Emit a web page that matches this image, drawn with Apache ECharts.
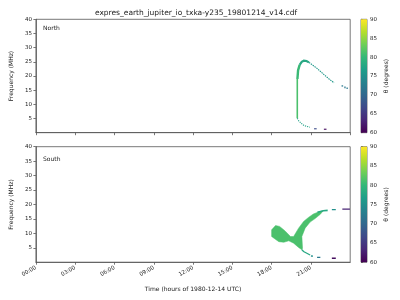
<!DOCTYPE html>
<html><head><meta charset="utf-8">
<script src="https://cdn.jsdelivr.net/npm/echarts@6/dist/echarts.min.js"></script>
<style>html,body{margin:0;padding:0;background:#fff}#c{width:400px;height:300px}</style>
</head><body><div id="c"></div>
<script>
// ---- data (time in hours of 1980-12-14 UTC, frequency in MHz, theta in degrees)
const xTickLabels = ['00:00','03:00','06:00','09:00','12:00','15:00','18:00','21:00'];
const viridis = ['#440154','#482878','#3e4989','#31688e','#26828e','#1f9e89','#35b779','#6ece58','#b5de2b','#fde725'];

// North panel strokes
const northVertical = [[19.96,5.1],[19.96,19.2]];
const northArcLow = [[19.97,19.0],[20.02,22.0],[20.14,23.9]];
const northArcTop = [[20.14,23.9],[20.30,25.0],[20.46,25.4],[20.66,25.3],[20.85,24.8]];
const northDescent = [[20.85,24.8],[21.47,22.7],[21.97,20.6],[22.42,18.8],[22.77,17.6]];
const northLower = [[19.96,5.1],[20.08,4.1],[20.26,3.3],[20.46,2.6],[20.66,2.26],[20.91,1.9]];
const northStrokeTheta = [81.3, 80.3, 78, 76, 77];
// North isolated points [hour, MHz, theta]
const northDots = [[23.40,16.5,72],[23.60,16.0,72],[23.77,15.7,72]];
const northLowDots = [[21.34,1.4,67],[22.09,1.2,61]];

// South panel
const southBlob = [[18.00,8.9],[18.00,11.2],[18.30,12.7],[18.61,12.4],[19.01,10.9],[19.44,8.9],[19.68,8.9],
  [20.06,11.8],[20.44,14.1],[20.81,15.5],[21.19,16.7],[21.57,17.4],[21.94,17.8],[21.72,16.6],[21.32,15.1],
  [20.94,13.9],[20.56,11.8],[20.31,8.9],[20.36,4.8],[20.31,4.3],[20.06,5.1],[19.68,6.6],[19.31,7.4],
  [18.93,6.9],[18.55,7.1],[18.18,8.3]];
const southArc = [[21.50,17.3],[21.94,17.8],[22.28,17.95]];
const southDashTeal = [[22.60,18.2],[22.90,18.2]];
const southDashPurple = [[23.40,18.4],[23.98,18.4]];
const southLower = [[20.31,4.3],[20.44,3.7],[20.69,3.1],[20.94,2.5]];
const southLowDash1 = [[21.00,2.15],[21.16,2.1]];
const southLowDash2 = [[21.47,1.7],[21.72,1.7]];
const southLowDash3 = [[22.60,1.36],[22.90,1.36]];
const southTheta = [81.3, 78, 75, 63, 78, 75, 72, 61];

// ---- build shapes
const northShapes = [
  {pts:northVertical, t:northStrokeTheta[0], w:1.6, kind:'line'},
  {pts:northArcLow, t:northStrokeTheta[1], w:2.4, kind:'line'},
  {pts:northArcTop, t:northStrokeTheta[2], w:2.2, kind:'line'},
  {pts:northDescent, t:northStrokeTheta[3], w:1.1, kind:'line', dash:[1.5,0.8]},
  {pts:northLower, t:northStrokeTheta[4], w:1.1, kind:'line', dash:[1.2,1]}
];
const southShapes = [
  {pts:southBlob, t:southTheta[0], kind:'poly'},
  {pts:southArc, t:southTheta[1], w:1.6, kind:'line'},
  {pts:southDashTeal, t:southTheta[2], w:1.3, kind:'line'},
  {pts:southDashPurple, t:southTheta[3], w:1.3, kind:'line'},
  {pts:southLower, t:southTheta[4], w:1.3, kind:'line'},
  {pts:southLowDash1, t:southTheta[5], w:1.3, kind:'line'},
  {pts:southLowDash2, t:southTheta[6], w:1.3, kind:'line'},
  {pts:southLowDash3, t:southTheta[7], w:1.3, kind:'line'}
];

function shapeSeries(shapes, gi){
  return {
    type:'custom', xAxisIndex:gi, yAxisIndex:gi, clip:true,
    encode:{x:0,y:1},
    data: shapes.map((s,i)=>[s.pts[0][0], s.pts[0][1], s.t, i]),
    renderItem:function(params, api){
      const s = shapes[api.value(3)];
      const pts = s.pts.map(p=>api.coord(p));
      const color = api.visual('color');
      if (s.kind==='poly') {
        return {type:'polygon', shape:{points:pts}, style:{fill:color, stroke:color, lineWidth:0.5}};
      }
      return {type:'polyline', shape:{points:pts}, style:{stroke:color, fill:null, lineWidth:s.w, lineDash:s.dash||null}};
    }
  };
}

const txt = {color:'#222', fontFamily:'DejaVu Sans'};
const axLine = {show:true, lineStyle:{color:'#555', width:0.8}};
const axTick = {show:true, inside:false, length:2.5, lineStyle:{color:'#555', width:0.8}};

function timeAxis(gi, labels){
  return {type:'value', gridIndex:gi, min:0, max:24, interval:3,
    axisLine:axLine, axisTick:axTick, splitLine:{show:false},
    axisLabel:{show:labels, showMaxLabel:false, rotate:30, fontSize:5.5, margin:5, ...txt,
      formatter:v=>xTickLabels[Math.round(v/3)] || ''},
    name: labels ? 'Time (hours of 1980-12-14 UTC)' : '', nameLocation:'middle', nameGap:24,
    nameTextStyle:{fontSize:6, ...txt}};
}
function freqAxis(gi){
  return {type:'value', gridIndex:gi, min:0, max:40, interval:5,
    axisLine:axLine, axisTick:axTick, splitLine:{show:false},
    axisLabel:{showMinLabel:false, fontSize:5.5, margin:4, ...txt},
    name:'Frequency (MHz)', nameLocation:'middle', nameGap:17, nameRotate:90,
    nameTextStyle:{fontSize:6, ...txt}};
}
function cbarYAxis(gi){
  return {type:'value', gridIndex:gi, position:'right', min:60, max:90, interval:5,
    axisLine:axLine, axisTick:{show:true, length:2, lineStyle:{color:'#555', width:0.8}}, splitLine:{show:false},
    axisLabel:{fontSize:5.5, margin:3, ...txt},
    name:'θ (degrees)', nameLocation:'middle', nameGap:16, nameRotate:90,
    nameTextStyle:{fontSize:6, ...txt}};
}
function cbarSeries(gi){
  return {type:'custom', xAxisIndex:gi, yAxisIndex:gi, silent:true,
    data:[[0,60]],
    renderItem:function(params, api){
      const p0 = api.coord([0,60]), p1 = api.coord([1,90]);
      const stops = viridis.map((c,i)=>({offset:i/(viridis.length-1), color:c}));
      return {type:'rect', shape:{x:p0[0], y:p1[1], width:p1[0]-p0[0], height:p0[1]-p1[1]},
        style:{fill:new echarts.graphic.LinearGradient(0,1,0,0,stops)}};
    }};
}

const chart = echarts.init(document.getElementById('c'), null, {renderer:'canvas'});
chart.setOption({
  animation:false,
  backgroundColor:'#fff',
  title:{text:'expres_earth_jupiter_io_txka-y235_19801214_v14.cdf', left:191, textAlign:'center', top:4,
    textStyle:{fontSize:7.5, fontWeight:'normal', ...txt}},
  grid:[
    {left:31.7, top:19.3, width:318.5, height:113.4, show:true, borderColor:'#555', borderWidth:0.8},
    {left:31.7, top:146.7, width:318.5, height:115.5, show:true, borderColor:'#555', borderWidth:0.8},
    {left:361, top:19.3, width:6, height:113.4, show:true, borderColor:'#555', borderWidth:0.8},
    {left:361, top:146.7, width:6, height:115.5, show:true, borderColor:'#555', borderWidth:0.8}
  ],
  xAxis:[timeAxis(0,false), timeAxis(1,true),
    {type:'value', gridIndex:2, min:0, max:1, show:false},
    {type:'value', gridIndex:3, min:0, max:1, show:false}],
  yAxis:[freqAxis(0), freqAxis(1), cbarYAxis(2), cbarYAxis(3)],
  visualMap:{type:'continuous', show:false, min:60, max:90, dimension:2, seriesIndex:[0,1,2,3],
    inRange:{color:viridis}},
  graphic:[
    {type:'text', left:43, top:25, style:{text:'North', fontSize:6, fill:'#222', fontFamily:'DejaVu Sans'}},
    {type:'text', left:43, top:156, style:{text:'South', fontSize:6, fill:'#222', fontFamily:'DejaVu Sans'}}
  ],
  series:[
    shapeSeries(northShapes, 0),
    shapeSeries(southShapes, 1),
    {type:'scatter', xAxisIndex:0, yAxisIndex:0, symbol:'rect', symbolSize:[1.6,1.6], data:northDots},
    {type:'scatter', xAxisIndex:0, yAxisIndex:0, symbol:'rect', symbolSize:[2.6,1.4], data:northLowDots},
    cbarSeries(2), cbarSeries(3)
  ]
});
</script></body></html>
